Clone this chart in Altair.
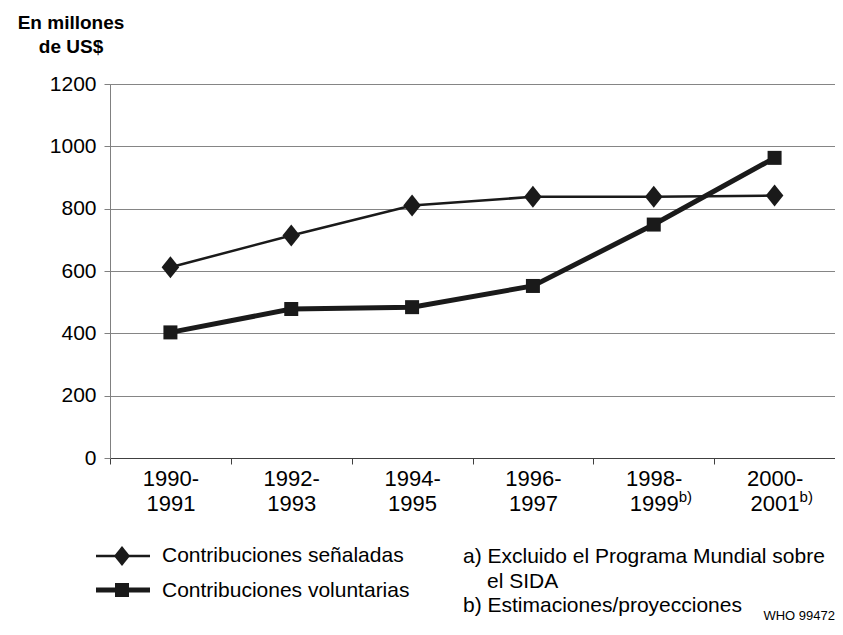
import altair as alt
import pandas as pd

# ---- data ----
periods = ["1990-|1991", "1992-|1993", "1994-|1995", "1996-|1997",
           "1998-|1999", "2000-|2001"]
series_names = ["Contribuciones señaladas", "Contribuciones voluntarias"]
senaladas = [612, 714, 810, 838, 838, 842]
voluntarias = [403, 478, 484, 552, 749, 963]
y_ticks = [0, 200, 400, 600, 800, 1000, 1200]
footnote_periods = [periods[4], periods[5]]
footnote_marks = ["b)", "b)"]

rows = []
for p, v in zip(periods, senaladas):
    rows.append({"period": p, "series": series_names[0], "value": v})
for p, v in zip(periods, voluntarias):
    rows.append({"period": p, "series": series_names[1], "value": v})
df = pd.DataFrame(rows)

FONT = "Liberation Sans"
INK = "#1a1a1a"
DIAMOND = "M0,-1L0.8,0L0,1L-0.8,0Z"

xscale = alt.Scale(type="band", paddingInner=0, paddingOuter=0)
xaxis = alt.Axis(title=None, labelExpr="split(datum.label, '|')", labelAngle=0,
                 tickBand="extent", labelFont=FONT, labelFontSize=22,
                 labelColor="#000000", labelLineHeight=25, labelPadding=4,
                 labelBaseline="top", tickSize=6, tickColor="#404040",
                 domainColor="#404040", grid=False)

x_enc = alt.X("period:N", sort=periods, scale=xscale, bandPosition=0.5, axis=xaxis)
y_enc = alt.Y(
    "value:Q", scale=alt.Scale(domain=[0, 1200], nice=False, zero=True),
    axis=alt.Axis(title=None, values=y_ticks, format="d", grid=True, gridColor="#858585",
                  gridWidth=1, tickSize=6, tickColor="#808080", domainColor="#808080",
                  labelFont=FONT, labelFontSize=21, labelColor="#000000", labelPadding=8),
)

base = alt.Chart(df)

line_s = base.transform_filter(alt.datum.series == series_names[0]).mark_line(
    color=INK, strokeWidth=2.5).encode(x=x_enc, y=y_enc)
line_v = base.transform_filter(alt.datum.series == series_names[1]).mark_line(
    color=INK, strokeWidth=5).encode(x=x_enc, y=y_enc)
pts_s = base.transform_filter(alt.datum.series == series_names[0]).mark_point(
    filled=True, opacity=1, color=INK, shape=DIAMOND, size=484).encode(x=x_enc, y=y_enc)
pts_v = base.transform_filter(alt.datum.series == series_names[1]).mark_point(
    filled=True, opacity=1, color=INK, shape="square", size=196).encode(x=x_enc, y=y_enc)

sup = alt.Chart(pd.DataFrame({"period": footnote_periods, "t": footnote_marks})).mark_text(
    align="left", baseline="alphabetic", font=FONT, fontSize=15, color="#000000", dx=25
).encode(x=x_enc, y=alt.value(418), text="t:N")


def label(txt, x, y, size=21, weight="normal", align="left"):
    return alt.Chart(pd.DataFrame({"t": [txt]})).mark_text(
        align=align, baseline="alphabetic", font=FONT, fontSize=size,
        fontWeight=weight, color="#000000"
    ).encode(x=alt.value(x), y=alt.value(y), text="t:N")


def rule(x1, x2, y, w):
    return alt.Chart(pd.DataFrame({"a": [0]})).mark_rule(color=INK, strokeWidth=w).encode(
        x=alt.value(x1), x2=alt.value(x2), y=alt.value(y))


def marker(x, y, shape, size):
    return alt.Chart(pd.DataFrame({"a": [0]})).mark_point(
        filled=True, opacity=1, color=INK, shape=shape, size=size).encode(
        x=alt.value(x), y=alt.value(y))


annotations = [
    label("En millones", -39, -55, size=19, weight="bold", align="center"),
    label("de US$", -39, -31, size=19, weight="bold", align="center"),
    rule(-14, 40, 472, 2.5), marker(12, 472, DIAMOND, 400),
    label(series_names[0], 52, 478),
    rule(-14, 40, 506, 5), marker(12, 506, "square", 196),
    label(series_names[1], 52, 513),
    label("a) Excluido el Programa Mundial sobre", 353, 479),
    label("el SIDA", 377, 504),
    label("b) Estimaciones/proyecciones", 353, 528),
    label("WHO 99472", 725, 536, size=13, align="right"),
]

chart = alt.layer(line_s, line_v, pts_s, pts_v, sup, *annotations).properties(
    width=725, height=374,
    autosize=alt.AutoSizeParams(type="none"),
    padding={"left": 102, "top": 76, "right": 0, "bottom": 164},
).configure_view(stroke="#a0a0a0", strokeWidth=1)

chart.save("out.html", embed_options={"renderer": "svg", "actions": False})
